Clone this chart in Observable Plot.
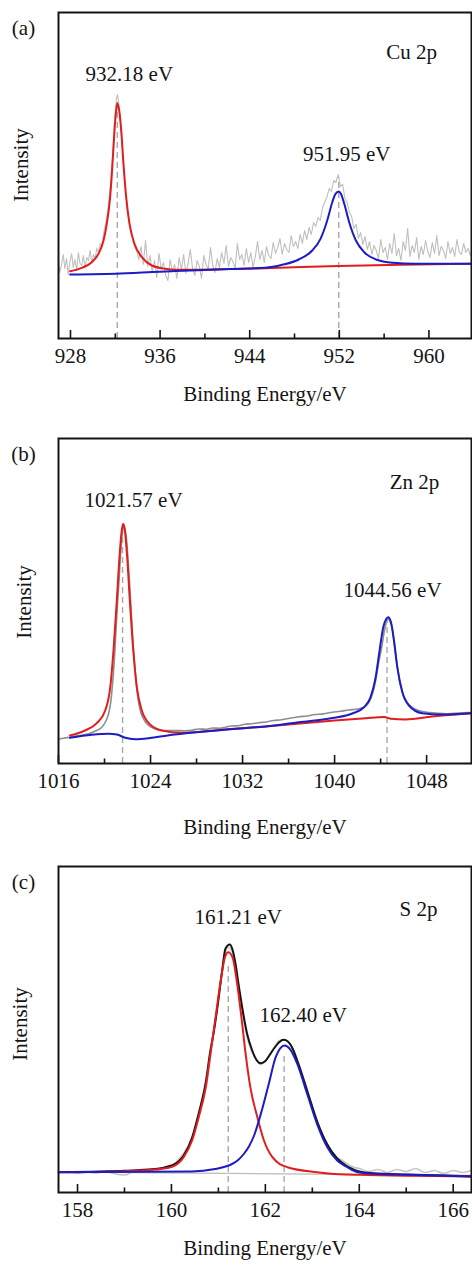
<!DOCTYPE html>
<html><head><meta charset="utf-8">
<script src="https://cdn.jsdelivr.net/npm/d3@7"></script>
<script src="https://cdn.jsdelivr.net/npm/@observablehq/plot@0.6"></script>
<style>
body{margin:0;background:#fff;width:472px;}
#chart svg{display:block;}
</style></head><body><div id="chart"></div>
<script>
// ---------- (a) Cu 2p ----------
const cuRawE = [
926.9,927.05,927.2,927.35,927.5,927.65,927.8,927.95,928.1,928.25,
928.4,928.55,928.7,928.85,929.0,929.15,929.3,929.45,929.6,929.75,
929.9,930.05,930.2,930.35,930.5,930.65,930.8,
931.0,931.2,931.4,931.6,931.8,931.95,932.1,932.2,932.3,932.45,
932.6,932.75,932.9,933.1,933.3,933.5,933.7,
933.9,934.1,934.3,934.5,934.7,934.9,935.1,935.3,935.5,935.7,
935.9,936.1,936.3,936.5,936.7,936.9,937.1,937.3,937.5,937.7,
937.9,938.1,938.3,938.5,938.7,938.9,939.1,939.3,939.5,939.7,
939.9,940.1,940.3,940.5,940.7,940.9,941.1,941.3,941.5,941.7,
941.9,942.1,942.3,942.5,942.7,942.9,943.1,943.3,943.5,943.7,
943.9,944.1,944.3,944.5,944.7,944.9,945.1,945.3,945.5,945.7,
945.9,946.1,946.3,946.5,946.7,946.9,947.1,947.3,947.5,947.7,
947.9,948.1,948.3,948.5,948.7,948.9,949.1,949.3,949.5,949.7,
949.9,950.1,950.3,950.5,950.7,950.9,951.1,951.3,951.5,951.7,
951.9,952.1,952.3,952.5,952.7,952.9,953.1,953.3,953.5,953.7,
953.9,954.1,954.3,954.5,954.7,954.9,955.1,955.3,955.5,955.7,
955.9,956.1,956.3,956.5,956.7,956.9,957.1,957.3,957.5,957.7,
957.9,958.1,958.3,958.5,958.7,958.9,959.1,959.3,959.5,959.7,
959.9,960.1,960.3,960.5,960.7,960.9,961.1,961.3,961.5,961.7,
961.9,962.1,962.3,962.5,962.7,962.9,963.1,963.3,963.5,963.7,
963.8];
const cuRawI = [
78,66,74,84,70,80,64,77,85,71,
79,68,86,75,73,83,70,81,78,88,
76,84,80,90,86,95,92,
108,118,134,158,190,222,240,244,236,218,
196,170,150,126,112,104,92,
88,79,92,74,98,72,83,66,78,61,
85,70,76,63,58,79,67,74,60,81,
69,84,65,75,89,70,63,78,72,60,
83,74,69,91,73,66,80,71,86,75,
93,72,81,77,70,95,79,84,73,90,
76,86,71,82,97,79,88,76,92,83,
80,96,85,91,100,84,95,89,86,103,
92,97,90,104,95,108,99,111,104,116,
112,121,118,131,136,142,150,147,158,156,
164,152,154,140,136,126,122,110,114,100,
106,94,102,89,97,84,93,88,80,99,
86,91,79,95,85,105,83,90,78,97,
88,110,82,93,86,101,79,92,84,98,
87,81,96,85,103,83,92,88,80,97,
85,91,82,99,87,84,95,86,90,83,
88];
const cuRedE = [927.97,929.01,929.9,930.5,930.95,931.24,931.54,931.75,931.93,932.08,932.18,932.35,932.53,932.73,932.97,933.27,933.71,934.37,935.26,936.46,937.35,945.41,951.93,957.46,963.8];
const cuRedI = [67.3,70.7,76.3,84.7,98,114.7,141.3,174.7,208,228,235.3,228,208,174.7,141.3,114.7,94.7,81.3,73,69.7,68.7,70.3,72.5,73.7,74.7];
const cuBlueE = [927.97,932.46,937.38,942.29,945.41,946.9,948.38,949.58,950.32,950.92,951.37,951.66,951.95,952.14,952.44,952.88,953.48,954.22,955.27,956.76,958.84,963.8];
const cuBlueI = [64,65,67.5,69.5,70.7,73.7,79,88,99.7,118,136.3,144.7,147,144.7,134.7,116.3,98,86.3,79,75.7,74.7,74.7];
const cuPeakE = [932.18, 951.95];
const cuPeakLabel = ["932.18 eV", "951.95 eV"];
const cuDashTop = [240, 161];
const cuMajor = [928, 936, 944, 952, 960];
const cuMinor = [932, 940, 948, 956];

// ---------- (b) Zn 2p ----------
const znRawE = [1016.0,1016.5,1017.0,1017.5,1018.0,1018.6,1019.2,1019.77,1020.1,1020.35,1020.55,1020.7,1020.85,1020.98,1021.13,1021.28,1021.4,1021.5,1021.6,1021.68,1021.78,1021.89,1022.02,1022.15,1022.3,1022.43,1022.6,1022.76,1022.95,1023.19,1023.5,1023.83,1024.3,1025.0,1026.0,1027.0,1027.6,1028.2,1028.8,1029.4,1030.0,1030.5,1031.0,1031.6,1032.2,1032.8,1033.4,1034.0,1034.7,1035.4,1036.1,1036.9,1037.6,1038.3,1039.0,1039.8,1040.5,1041.2,1042.1,1042.6,1043.0,1043.3,1043.57,1043.85,1044.1,1044.3,1044.46,1044.58,1044.7,1044.85,1045.0,1045.15,1045.3,1045.5,1045.7,1046.0,1046.3,1046.7,1047.3,1048.0,1048.8,1049.65,1050.4,1051.2,1051.9];
const znRawI = [24.5,25.5,26.3,27.5,28.3,29.7,32.5,36.3,42,49.7,62,79.7,103,129.7,160,186.3,210,226.3,235,238,234,226.3,208,186.3,157,129.7,102,79.7,62,49.7,42.5,38,35,33,33,32.8,33.3,34.5,34.2,35.5,35.2,36.3,37.5,37.8,39.3,39.8,40.8,41.5,43,43.8,45.2,46.8,47.5,49,49.6,51.3,52.2,53.5,54.7,56.5,61.3,70,83,102,116.3,131,139.7,143.5,144.7,141,136.3,124,109.7,93,79.7,68,61.3,56.5,53,51.3,50.5,49.7,50.3,50.6,51];
const znRedE = [1017.0,1018.3,1019.33,1020.06,1020.5,1020.78,1021.07,1021.3,1021.5,1021.62,1021.77,1021.97,1022.2,1022.5,1022.81,1023.24,1023.97,1024.98,1026.72,1029.0,1031.5,1034.0,1037.0,1040.0,1042.7,1044.3,1044.9,1046.17,1048.5,1051.9];
const znRedI = [28,33,40.3,53,76.3,113,163,206.3,233,239.7,233,206.3,163,113,76.3,53,39,33,30.7,32.5,35,37,40,43,45.3,46.5,44.7,44,47,50.3];
const znBlueE = [1017.0,1018.9,1020.35,1021.07,1021.8,1022.67,1024.1,1026.1,1029.0,1031.5,1034.0,1036.9,1039.8,1041.54,1042.55,1043.13,1043.57,1043.91,1044.23,1044.5,1044.67,1044.9,1045.16,1045.45,1045.89,1046.46,1047.62,1049.36,1051.9];
const znBlueI = [25.7,28.7,29.7,29,25.7,24.3,25.7,29,32.3,34.7,37,41.3,45.5,50,56.3,66.3,86.3,113,136.3,144.7,146.3,141.3,123,96.3,71.3,58,50.3,49,50.3];
const znPeakE = [1021.57, 1044.56];
const znPeakLabel = ["1021.57 eV", "1044.56 eV"];
const znDashTop = [236, 143];
const znMajor = [1016, 1024, 1032, 1040, 1048];
const znMinor = [1020, 1028, 1036, 1044];

// ---------- (c) S 2p ----------
const sRawE = [157.6,157.8,158.0,158.2,158.4,158.6,158.8,159.0,159.2,159.4,159.6,159.8,160.0,160.15,160.3,160.45,160.6,160.75,160.9,161.0,161.1,161.2,161.3,161.4,161.5,161.6,161.7,161.8,161.9,162.0,162.1,162.2,162.3,162.4,162.5,162.6,162.7,162.8,162.9,163.0,163.1,163.2,163.3,163.4,163.5,163.6,163.7,163.8,163.9,164.0,164.2,164.4,164.6,164.8,165.0,165.2,165.4,165.6,165.8,166.0,166.2,166.39];
const sRawI = [20,21,19,20.5,19.5,21,18.5,17.5,21,22,20.5,23.5,26,33,42,56,78,108,160,192,228,245,240,214,184,158,142,133,128,131,139,146,152,153,150,141,130,116,101,86,72,59,50,42,36,33,30,27,25,24,21,23,20,23,21,24,20,22,19,22,20,22];
const sBgE = [157.6, 166.39];
const sBgI = [20.5, 17];
const sSumE = [157.6,158.5,159.0,159.5,159.8,160.0,160.15,160.26,160.44,160.58,160.73,160.83,160.9,160.99,161.08,161.15,161.24,161.3,161.36,161.43,161.5,161.61,161.72,161.8,161.9,162.0,162.1,162.2,162.3,162.39,162.48,162.58,162.68,162.89,163.1,163.32,163.53,163.7,163.85,164.0,164.3,165.0,166.39];
const sSumI = [20.5,21,21.7,23,24.5,27,31,37,55,79,110,142,160,189,222,243.7,248,243,230,208,187,159,142,133.5,129.3,131.5,138,145,150.5,152.7,151,144,132,102,71.5,48,34,27.5,23.5,21,19.2,18,16.2];
const sRedE = [157.6,159.0,159.55,159.98,160.26,160.44,160.58,160.73,160.83,160.94,161.05,161.14,161.21,161.3,161.39,161.49,161.58,161.68,161.83,161.97,162.15,162.47,163.1,163.74,163.98,166.39];
const sRedI = [20.3,21.3,22.7,25.3,35.3,52,75.3,105.3,138.7,175.3,212,235.3,240.3,235.3,212,175.3,138.7,105.3,75.3,52,35.3,25.3,20.3,18,17.7,16];
const sBlueE = [157.6,160.43,160.93,161.19,161.29,161.42,161.54,161.65,161.76,161.93,162.07,162.22,162.32,162.41,162.52,162.68,162.89,163.1,163.32,163.53,163.7,163.85,164.0,164.3,165.05,166.39];
const sBlueI = [20.3,21,23.5,26.5,28.5,32.5,38.5,46,57,83,108,135.3,144.3,147,143.7,128.7,98.7,68.7,45.3,32,26.5,22.5,20,18.8,17.7,16];
const sPeakE = [161.21, 162.40];
const sPeakLabel = ["161.21 eV", "162.40 eV"];
const sDashTop = [229, 139];
const sMajor = [158, 160, 162, 164, 166];
const sMinor = [159, 161, 163, 165];

const zip = (xs, ys) => xs.map((x, i) => ({x, y: ys[i]}));
const FONT = "'Liberation Serif', 'Times New Roman', serif";
const RED = "#e01e1e", BLUE = "#1c1cc4", INK = "#141414";
const T = {fontSize: 21, fill: INK, textAnchor: "middle", lineAnchor: "middle"};

function panel(c) {
  const H = c.height - c.mt - c.mb;
  const marks = [];
  marks.push(Plot.line(zip(c.rawE, c.rawI), {x: "x", y: "y", stroke: c.rawColor, strokeWidth: c.rawWidth, curve: c.rawCurve, clip: true}));
  if (c.bgE) marks.push(Plot.line(zip(c.bgE, c.bgI), {x: "x", y: "y", stroke: "#bdbdbd", strokeWidth: 1.4}));
  marks.push(Plot.ruleX(zip(c.peakE, c.dashTop), {x: "x", y1: 0, y2: "y", stroke: "#a9a9a9", strokeWidth: 1.4, strokeDasharray: "6,4"}));
  if (c.sumE) marks.push(Plot.line(zip(c.sumE, c.sumI), {x: "x", y: "y", stroke: INK, strokeWidth: 2, curve: "monotone-x"}));
  marks.push(Plot.line(zip(c.redE, c.redI), {x: "x", y: "y", stroke: RED, strokeWidth: c.fitWidth, curve: "monotone-x", clip: true}));
  marks.push(Plot.line(zip(c.blueE, c.blueI), {x: "x", y: "y", stroke: BLUE, strokeWidth: c.fitWidth, curve: "monotone-x", clip: true}));
  marks.push(Plot.frame({stroke: INK, strokeWidth: 2}));
  marks.push(Plot.tickX(c.major, {x: d => d, insetTop: H - 8, stroke: INK, strokeWidth: 1.6}));
  marks.push(Plot.tickX(c.minor, {x: d => d, insetTop: H - 4.5, stroke: INK, strokeWidth: 1.6}));
  marks.push(Plot.axisX({ticks: c.major, tickSize: 0, tickPadding: 10, fontSize: 21, tickFormat: d => String(d), fill: INK, label: null}));
  marks.push(Plot.text(["Binding Energy/eV"], {...T, text: d => d, frameAnchor: "bottom", dy: c.titleDy}));
  marks.push(Plot.text(["Intensity"], {...T, text: d => d, frameAnchor: "left", dx: c.intOff[0], dy: c.intOff[1], rotate: -90}));
  marks.push(Plot.text([c.letter], {...T, text: d => d, frameAnchor: "top-left", dx: -35, dy: 16}));
  marks.push(Plot.text([c.element], {...T, text: d => d, frameAnchor: "top-right", dx: c.elOff[0], dy: c.elOff[1]}));
  c.peakE.forEach((e, i) => {
    marks.push(Plot.text([e], {...T, x: d => d, text: [c.peakLabel[i]], frameAnchor: "top", dx: c.lblOff[i][0], dy: c.lblOff[i][1]}));
  });
  return Plot.plot({
    width: 472, height: c.height,
    marginLeft: 58, marginRight: 1, marginTop: c.mt, marginBottom: c.mb,
    x: {domain: c.domain, label: null},
    y: {domain: [0, H], axis: null},
    style: {fontFamily: FONT, fontSize: "21px", background: "#fff", color: INK, overflow: "visible"},
    marks
  });
}

const chart = document.getElementById("chart");
chart.append(panel({
  height: 420, mt: 12, mb: 82, domain: [926.93, 963.8],
  rawE: cuRawE, rawI: cuRawI, rawColor: "#bfbfbf", rawWidth: 1.1, rawCurve: "linear",
  redE: cuRedE, redI: cuRedI, blueE: cuBlueE, blueI: cuBlueI, fitWidth: 2,
  peakE: cuPeakE, peakLabel: cuPeakLabel, dashTop: cuDashTop,
  major: cuMajor, minor: cuMinor, letter: "(a)", element: "Cu 2p",
  elOff: [-60, 40], lblOff: [[12, 62], [8, 142]], intOff: [-37, -10.5], titleDy: 56
}));
chart.append(panel({
  height: 425, mt: 18, mb: 82, domain: [1016, 1051.9],
  rawE: znRawE, rawI: znRawI, rawColor: "#8e8e8e", rawWidth: 1.6, rawCurve: "monotone-x",
  redE: znRedE, redI: znRedI, blueE: znBlueE, blueI: znBlueI, fitWidth: 2,
  peakE: znPeakE, peakLabel: znPeakLabel, dashTop: znDashTop,
  major: znMajor, minor: znMinor, letter: "(b)", element: "Zn 2p",
  elOff: [-57, 44], lblOff: [[11, 61.5], [5.5, 151.5]], intOff: [-34, 1], titleDy: 64
}));
chart.append(panel({
  height: 420, mt: 21, mb: 73, domain: [157.595, 166.39],
  rawE: sRawE, rawI: sRawI, rawColor: "#c6c6c6", rawWidth: 1.6, rawCurve: "monotone-x",
  bgE: sBgE, bgI: sBgI, sumE: sSumE, sumI: sSumI,
  redE: sRedE, redI: sRedI, blueE: sBlueE, blueI: sBlueI, fitWidth: 2,
  peakE: sPeakE, peakLabel: sPeakLabel, dashTop: sDashTop,
  major: sMajor, minor: sMinor, letter: "(c)", element: "S 2p",
  elOff: [-53, 43], lblOff: [[10, 51], [19, 149]], intOff: [-38, -5.5], titleDy: 56
}));
</script></body></html>
